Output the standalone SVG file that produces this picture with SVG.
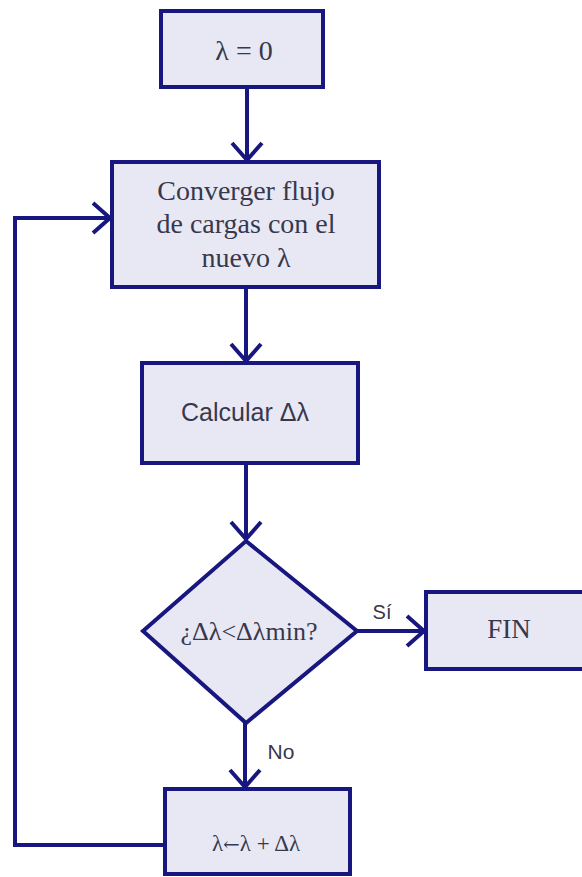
<svg xmlns="http://www.w3.org/2000/svg" width="582" height="877" viewBox="0 0 582 877">
<defs>
<style>
.node{fill:#e7e8f4;stroke:#17177f;stroke-width:4;stroke-linejoin:miter}
.conn{fill:none;stroke:#17177f;stroke-width:4}
.serif{font-family:"Liberation Serif","DejaVu Serif",serif;fill:#38384c;text-anchor:middle}
.sans{font-family:"Liberation Sans","DejaVu Sans",sans-serif;fill:#38384c;text-anchor:middle}
</style>
<marker id="arr" viewBox="-20 -17 23 34" refX="0" refY="0" markerWidth="23" markerHeight="34" markerUnits="userSpaceOnUse" orient="auto">
<path d="M-17,-15 L0,0 L-17,15" fill="none" stroke="#17177f" stroke-width="4"/>
</marker>
</defs>
<rect width="582" height="877" fill="#ffffff"/>
<g id="connectors">
<path class="conn" d="M247,87 V160" marker-end="url(#arr)"/>
<path class="conn" d="M246,287 V361" marker-end="url(#arr)"/>
<path class="conn" d="M246,463 V539" marker-end="url(#arr)"/>
<path class="conn" d="M357,631 H424" marker-end="url(#arr)"/>
<path class="conn" d="M245,723 V787" marker-end="url(#arr)"/>
<path class="conn" d="M165,845 H15 V218 H110" marker-end="url(#arr)"/>
<text class="sans" x="382" y="619" font-size="20">Sí</text>
<text class="sans" x="281" y="759" font-size="21">No</text>
</g>
<g id="start">
<rect class="node" x="161" y="11" width="162" height="76"/>
<text class="serif" x="244" y="60" font-size="28">λ = 0</text>
</g>
<g id="converger">
<rect class="node" x="112" y="162" width="267" height="125"/>
<text class="serif" x="246" y="200" font-size="28">Converger flujo</text>
<text class="serif" x="246" y="233" font-size="28">de cargas con el</text>
<text class="serif" x="246" y="267" font-size="28">nuevo λ</text>
</g>
<g id="calcular">
<rect class="node" x="142" y="363" width="216" height="100"/>
<text class="sans" x="245" y="421" font-size="25">Calcular Δλ</text>
</g>
<g id="decision">
<polygon class="node" points="246,541 357,631 246,723 143,631"/>
<text class="serif" x="249" y="640" font-size="26">¿Δλ&lt;Δλmin?</text>
</g>
<g id="fin">
<rect class="node" x="426" y="592" width="170" height="77"/>
<text class="serif" x="509" y="638" font-size="27">FIN</text>
</g>
<g id="update">
<rect class="node" x="165" y="789" width="185" height="85"/>
<text class="serif" x="256" y="851" font-size="23">λ<tspan font-family="'DejaVu Serif',serif" font-size="20">←</tspan>λ + Δλ</text>
</g>
</svg>
